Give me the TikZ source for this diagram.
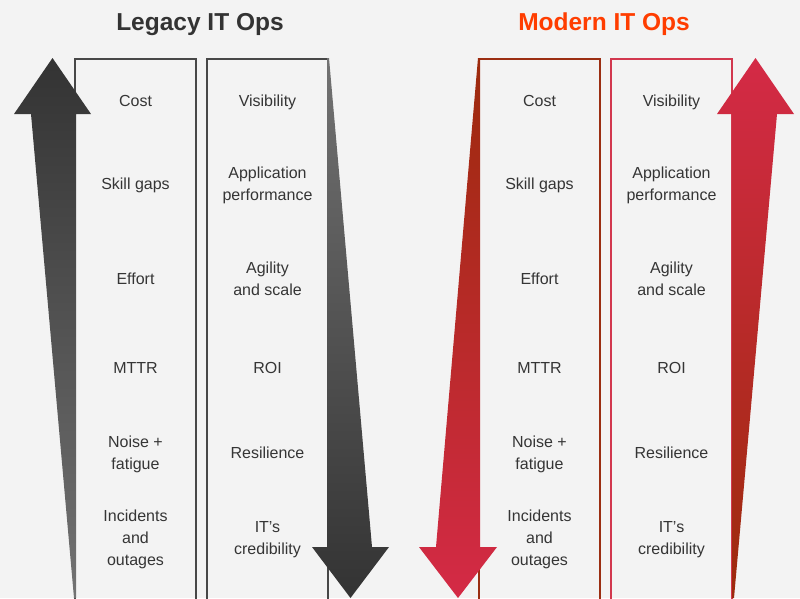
\documentclass[tikz,border=0pt]{standalone}
\usepackage{fontspec}
\setmainfont{Liberation Sans}
\definecolor{bg}{HTML}{F3F3F3}
\definecolor{txt}{HTML}{353535}
\definecolor{legdark}{HTML}{333333}
\definecolor{leglight}{HTML}{727272}
\definecolor{rust}{HTML}{9C2A0C}
\definecolor{crimson}{HTML}{D42A46}
\definecolor{titlered}{HTML}{FF3D00}
\definecolor{boxrust}{HTML}{9B2E12}
\definecolor{boxcrim}{HTML}{D2384E}
\begin{document}
\begin{tikzpicture}[x=1pt,y=-1pt,
  lbl/.style={font=\fontsize{16}{22}\selectfont, text=txt, align=center, inner sep=0pt, text height=11.5pt, text depth=0pt},
  two/.style={text height=33.5pt},
  three/.style={text height=55.5pt},
  ttl/.style={font=\fontsize{24.5}{28}\selectfont\bfseries, inner sep=0pt, text height=17.6pt, text depth=0pt},
  boxline/.style={line width=1.6pt}]
\fill[bg] (0,0) rectangle (800,598);
\useasboundingbox (0,0) rectangle (800,598);
% boxes
\draw[boxline, draw=legdark!90] (75,600) -- (75,59) -- (196,59) -- (196,600);
\draw[boxline, draw=legdark!90] (207,600) -- (207,59) -- (328,59) -- (328,600);
\draw[boxline, draw=boxrust] (479,600) -- (479,59) -- (600,59) -- (600,600);
\draw[boxline, draw=boxcrim] (611,600) -- (611,59) -- (732,59) -- (732,600);
% arrows
\shade[top color=legdark, bottom color=leglight]
  (74,598) -- (31,114) -- (14,114) -- (52.5,58) -- (91,114) -- (76,114) -- (76,598) -- cycle;
\shade[top color=leglight, bottom color=legdark]
  (327,58) -- (329,58) -- (372,547) -- (389,547) -- (350.5,598) -- (312,547) -- (327,547) -- cycle;
\shade[top color=rust, bottom color=crimson]
  (478,58) -- (480,58) -- (480,547) -- (497,547) -- (458,598) -- (419,547) -- (436,547) -- cycle;
\shade[top color=crimson, bottom color=rust]
  (755.5,58) -- (794,114) -- (777,114) -- (734,598) -- (732,598) -- (732,114) -- (717,114) -- cycle;
% titles
\node[ttl, text=legdark] (tleg) at (200,22) {Legacy IT Ops};
\node[ttl, text=titlered] (tmod) at (604,22) {Modern IT Ops};
% legacy column 1
\node[lbl] (l1a) at (135.5,101) {Cost};
\node[lbl] (l1b) at (135.5,184) {Skill gaps};
\node[lbl] (l1c) at (135.5,279) {Effort};
\node[lbl] (l1d) at (135.5,368) {MTTR};
\node[lbl, two] (l1e) at (135.5,453) {Noise +\\fatigue};
\node[lbl, three] (l1f) at (135.5,538) {Incidents\\and\\outages};
% legacy column 2
\node[lbl] (l2a) at (267.5,101) {Visibility};
\node[lbl, two] (l2b) at (267.5,184) {Application\\performance};
\node[lbl, two] (l2c) at (267.5,279) {Agility\\and scale};
\node[lbl] (l2d) at (267.5,368) {ROI};
\node[lbl] (l2e) at (267.5,453) {Resilience};
\node[lbl, two] (l2f) at (267.5,538) {IT’s\\credibility};
% modern column 1
\node[lbl] (m1a) at (539.5,101) {Cost};
\node[lbl] (m1b) at (539.5,184) {Skill gaps};
\node[lbl] (m1c) at (539.5,279) {Effort};
\node[lbl] (m1d) at (539.5,368) {MTTR};
\node[lbl, two] (m1e) at (539.5,453) {Noise +\\fatigue};
\node[lbl, three] (m1f) at (539.5,538) {Incidents\\and\\outages};
% modern column 2
\node[lbl] (m2a) at (671.5,101) {Visibility};
\node[lbl, two] (m2b) at (671.5,184) {Application\\performance};
\node[lbl, two] (m2c) at (671.5,279) {Agility\\and scale};
\node[lbl] (m2d) at (671.5,368) {ROI};
\node[lbl] (m2e) at (671.5,453) {Resilience};
\node[lbl, two] (m2f) at (671.5,538) {IT’s\\credibility};
\end{tikzpicture}
\end{document}
